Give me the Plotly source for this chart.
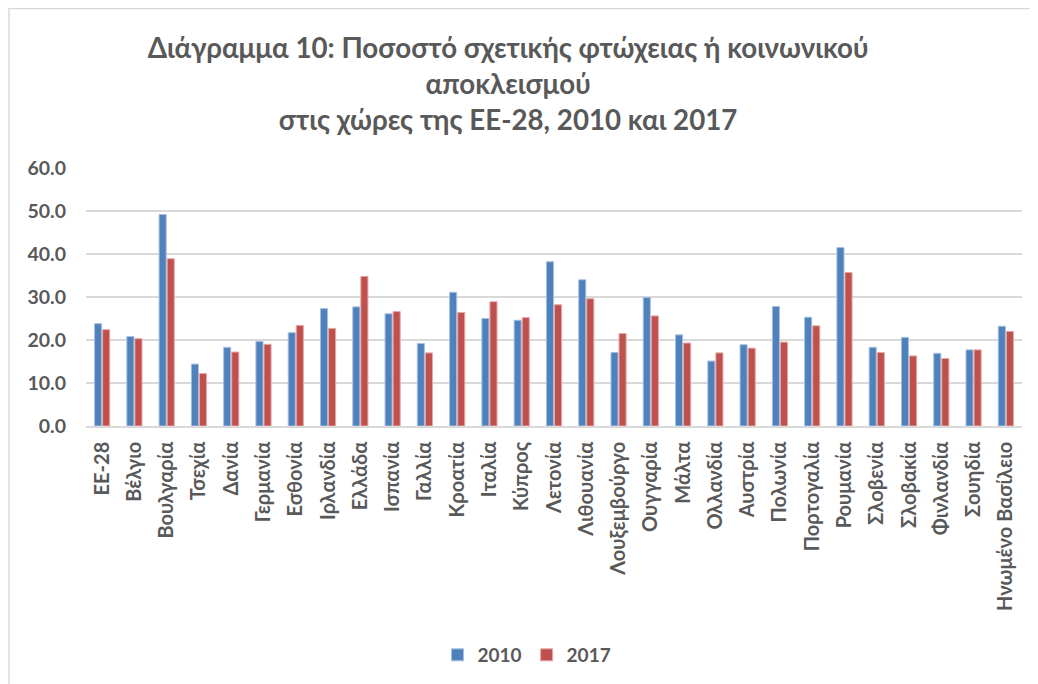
import plotly.graph_objects as go

countries = ["ΕΕ-28", "Βέλγιο", "Βουλγαρία", "Τσεχία", "Δανία", "Γερμανία", "Εσθονία",
             "Ιρλανδία", "Ελλάδα", "Ισπανία", "Γαλλία", "Κροατία", "Ιταλία", "Κύπρος",
             "Λετονία", "Λιθουανία", "Λουξεμβούργο", "Ουγγαρία", "Μάλτα", "Ολλανδία",
             "Αυστρία", "Πολωνία", "Πορτογαλία", "Ρουμανία", "Σλοβενία", "Σλοβακία",
             "Φινλανδία", "Σουηδία", "Ηνωμένο Βασίλειο"]
values_2010 = [23.8, 20.8, 49.2, 14.4, 18.3, 19.7, 21.7, 27.3, 27.7, 26.1, 19.2, 31.1, 25.0, 24.6,
               38.2, 34.0, 17.1, 29.9, 21.2, 15.1, 18.9, 27.8, 25.3, 41.5, 18.3, 20.6, 16.9, 17.7, 23.2]
values_2017 = [22.4, 20.3, 38.9, 12.2, 17.2, 19.0, 23.4, 22.7, 34.8, 26.6, 17.0, 26.4, 28.9, 25.2,
               28.2, 29.6, 21.5, 25.6, 19.3, 17.0, 18.1, 19.5, 23.3, 35.7, 17.1, 16.3, 15.7, 17.7, 22.0]
series_names = ["2010", "2017"]
y_ticks = [0, 10, 20, 30, 40, 50, 60]

FONT = "Lato, 'Open Sans', sans-serif"
GRAY = "#595959"

fig = go.Figure()
fig.add_trace(go.Bar(name="<b>" + series_names[0] + "</b>", x=countries, y=values_2010,
                     marker=dict(color="#4F81BD", line=dict(color="#A7C0E0", width=1))))
fig.add_trace(go.Bar(name="<b>" + series_names[1] + "</b>", x=countries, y=values_2017,
                     marker=dict(color="#C0504D", line=dict(color="#E3A9A7", width=1))))

W, H = 1030, 676
L, R, T, B = 78, 16, 160, 258
pw, ph = W - L - R, H - T - B

fig.update_layout(
    width=W, height=H,
    margin=dict(l=L, r=R, t=T, b=B, autoexpand=False),
    paper_bgcolor="white", plot_bgcolor="white",
    barmode="group", bargap=0.5, bargroupgap=0.12,
    font=dict(family=FONT, color=GRAY, size=16),
    title=dict(text="<b>Διάγραμμα 10: Ποσοστό σχετικής φτώχειας ή κοινωνικού<br>αποκλεισμού<br>στις χώρες της ΕΕ-28, 2010 και 2017</b>",
               x=0.4855, xanchor="center", y=1 - 50 / H, yanchor="top",
               font=dict(family=FONT, size=27.7, color=GRAY)),
    xaxis=dict(tickangle=-90, tickmode="array", tickvals=countries,
               ticktext=["<b>" + c + "</b>" for c in countries],
               tickfont=dict(size=20, color=GRAY, family=FONT),
               showgrid=False, showline=True, linecolor="#d9d9d9", linewidth=1.5,
               ticks="", ticklabelstandoff=6, automargin=False),
    yaxis=dict(range=[0, 60], tickvals=y_ticks,
               ticktext=["<b>%.1f</b>" % v for v in y_ticks],
               tickfont=dict(size=19.5, color=GRAY, family=FONT),
               showgrid=True, gridcolor="#d9d9d9", gridwidth=1.5,
               zeroline=False, showline=False, ticks="", ticklabelstandoff=19,
               automargin=False),
    legend=dict(orientation="h", x=519 / W, xanchor="center", xref="container",
                y=(H - 647) / H, yanchor="middle", yref="container",
                font=dict(size=19, color=GRAY, family=FONT), traceorder="normal",
                itemwidth=30),
    shapes=[dict(type="rect", xref="paper", yref="paper",
                 x0=(1 - L) / pw, x1=(W + 20 - L) / pw,
                 y0=(B - H - 20) / ph, y1=(H - 0.5 - B) / ph,
                 line=dict(color="#d9d9d9", width=1.5))],
)

fig.write_html("out.html")
